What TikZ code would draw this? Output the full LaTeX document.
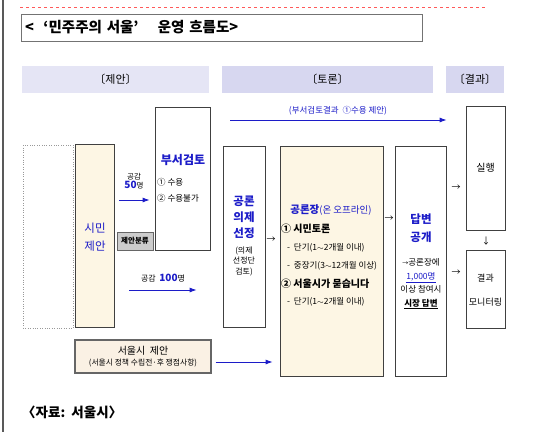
\documentclass[tikz,border=0pt]{standalone}
\usepackage{fontspec}
\setmainfont{Noto Sans CJK KR}
\usetikzlibrary{arrows.meta, positioning}
\definecolor{headA}{RGB}{229,229,245}
\definecolor{headB}{RGB}{215,215,240}
\definecolor{cream}{RGB}{253,246,228}
\definecolor{creamB}{RGB}{250,241,228}
\definecolor{darkblue}{RGB}{28,28,200}
\tikzset{
	box/.style={draw=black!75, line width=0.8pt, inner sep=0pt},
	head/.style={inner sep=0pt, minimum height=27pt, font=\fontsize{11}{13}\selectfont},
	txt/.style={inner sep=0pt, font=\fontsize{8.5}{10}\selectfont},
	bluetxt/.style={inner sep=0pt, text=darkblue, align=center, font=\fontsize{11.5}{15}\selectfont\bfseries},
	glyph/.style={inner sep=0pt, font=\fontsize{9}{10}\selectfont},
	flow/.style={-{Latex[length=7pt,width=5pt]}, darkblue, line width=0.8pt}
}

\begin{document}
\begin{tikzpicture}[x=1pt, y=-1pt]
	\useasboundingbox (0,0) rectangle (550,432);
	\draw[black!65, line width=1.5pt] (3,0) -- (3,432);
	\draw[red!65, dashed] (20,7) -- (485,7);
	
	% --- Title ---
	\node[draw=black!55, line width=1pt, text width=394pt, minimum height=27pt, align=left,
		font=\fontsize{14.5}{16}\selectfont\bfseries] (title) at (222,27.5) {<\ \ ‘민주주의 서울’\ \ \ \ 운영 흐름도>};
	
	% --- Headers ---
	\node[head, fill=headA, minimum width=187pt] (hdpropose) at (115.5,79.5) {〔제안〕};
	\node[head, fill=headB, minimum width=211pt] (hddebate) at (327.5,79.5) {〔토론〕};
	\node[head, fill=headB, minimum width=58pt] (hdresult) at (475,79.5) {〔결과〕};
	
	% --- Proposal ---
	\node[draw=black!40, dotted, minimum width=50pt, minimum height=183pt] (blank) at (48,236.5) {};
	\node[box, fill=cream, minimum width=39pt, minimum height=183pt] (citizen) at (94.5,235.5) {};
	\node[bluetxt, font=\fontsize{11.5}{18}\selectfont] at (95,237) {시민\\제안};
	
	\node[box, minimum width=55pt, minimum height=143pt] (dept) at (182.5,178.5) {};
	\node[bluetxt, font=\fontsize{12}{15}\selectfont\bfseries] at (183,160) {부서검토};
	\node[txt, anchor=west] at (157,182) {① 수용};
	\node[txt, anchor=west] at (157,198) {② 수용불가};
	
	\node[draw=black!60, fill=black!20, line width=0.8pt, minimum width=36pt, minimum height=18pt, inner sep=0pt,
		font=\fontsize{7.5}{8}\selectfont\bfseries] (sort) at (135,241) {제안분류};
	
	\node[txt, align=center, font=\fontsize{7.5}{8.5}\selectfont] (like50) at (134,181) {공감\\{\color{darkblue}\bfseries\fontsize{10}{10}\selectfont 50}명};
	\node[txt, font=\fontsize{8}{9}\selectfont] (like100) at (163,278) {공감\ \ {\color{darkblue}\bfseries\fontsize{10}{10}\selectfont 100}명};
	
	\node[draw=black!60, fill=creamB, line width=1.2pt, minimum width=136pt, minimum height=33pt, inner sep=0pt,
		align=center, font=\fontsize{10}{12}\selectfont] (seoul) at (143,356.5)
		{서울시\ \ 제안\\[-1pt]{\fontsize{7.8}{9}\selectfont(서울시 정책 수립전·후 쟁점사항)}};
	
	% --- Debate ---
	\node[box, minimum width=42pt, minimum height=181pt] (agenda) at (244,236.5) {};
	\node[bluetxt, font=\fontsize{11.5}{16}\selectfont\bfseries] at (244,217) {공론\\의제\\선정};
	\node[txt, align=center, font=\fontsize{8}{10.5}\selectfont] at (244,261) {(의제\\선정단\\검토)};
	
	\node[box, fill=cream, minimum width=103pt, minimum height=230pt] (forum) at (331.5,261) {};
	\node[inner sep=0pt, text=darkblue, font=\fontsize{9.5}{11}\selectfont] at (331,210) {{\bfseries\fontsize{10.5}{11}\selectfont 공론장}(온 오프라인)};
	\node[txt, anchor=west, font=\fontsize{10}{11}\selectfont\bfseries] at (281,229) {① 시민토론};
	\node[txt, anchor=west] at (287,248) {-\ \ 단기(1$\sim$2개월 이내)};
	\node[txt, anchor=west] at (287,266) {-\ \ 중장기(3$\sim$12개월 이상)};
	\node[txt, anchor=west, font=\fontsize{10}{11}\selectfont\bfseries] at (281,284) {② 서울시가 묻습니다};
	\node[txt, anchor=west] at (287,302) {-\ \ 단기(1$\sim$2개월 이내)};
	
	\node[box, minimum width=51pt, minimum height=230pt] (answer) at (420.5,261) {};
	\node[bluetxt, font=\fontsize{11.5}{18}\selectfont\bfseries] at (421,228) {답변\\공개};
	\node[txt, align=center, font=\fontsize{8.5}{13.5}\selectfont] at (421,284)
		{{\fontsize{6}{6}\selectfont→}공론장에\\{\color{darkblue}\underline{1,000명}}\\이상 참여시\\{\bfseries\underline{시장 답변}}};
	
	% --- Result ---
	\node[box, minimum width=39pt, minimum height=124pt] (exec) at (485.5,168) {};
	\node[inner sep=0pt, font=\fontsize{10}{11}\selectfont] at (485.5,168) {실행};
	\node[box, minimum width=39pt, minimum height=78pt] (monitor) at (485.5,289) {};
	\node[inner sep=0pt, align=center, font=\fontsize{9}{24}\selectfont] at (485.5,290) {결과\\모니터링};
	
	% --- Small arrows ---
	\node[glyph] at (271,240) {→};
	\node[glyph] at (389,219) {→};
	\node[glyph] at (456,188) {→};
	\node[glyph] at (456,273) {→};
	\node[glyph] at (486,241) {↓};
	
	% --- Flows ---
	\coordinate (rowtop) at (0,120);
	\coordinate (row50) at (0,200);
	\coordinate (row100) at (0,290);
	\coordinate (rowseoul) at (0,362);
	\draw[flow, shorten <=20pt, shorten >=19pt] (dept.east |- rowtop) -- (exec.west |- rowtop)
		node[midway, above=4pt, txt, xshift=-0pt] {(부서검토결과\ \ ①수용 제안)};
	\draw[flow, shorten <=5pt, shorten >=5pt] (citizen.east |- row50) -- (dept.west |- row50);
	\draw[flow, shorten <=15pt, shorten >=26pt] (citizen.east |- row100) -- (agenda.west |- row100);
	\draw[flow, shorten <=4pt, shorten >=7pt] (seoul.east |- rowseoul) -- (forum.west |- rowseoul);
	
	% --- Source ---
	\node[anchor=west, inner sep=0pt, font=\fontsize{13.5}{15}\selectfont\bfseries] (source) at (22,412) {〈자료:\ \ 서울시〉};
\end{tikzpicture}
\end{document}
